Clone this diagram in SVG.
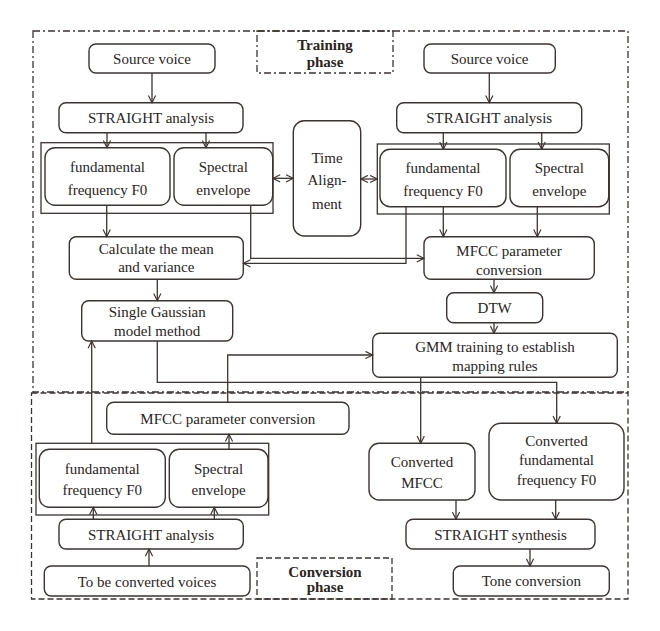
<svg xmlns="http://www.w3.org/2000/svg" width="660" height="631" viewBox="0 0 660 631">
<style>
.box{fill:#fff;stroke:#3b3431;stroke-width:1.4}
.grp{fill:none;stroke:#3b3431;stroke-width:1.3}
.t{font-family:"Liberation Serif","Times New Roman",serif;font-size:15px;fill:#2a2422;text-anchor:middle;dominant-baseline:central}
.b{font-weight:bold}
.c{fill:none;stroke:#3b3431;stroke-width:1.3}
.frameT{fill:none;stroke:#3b3431;stroke-width:1.3;stroke-dasharray:7 3 2 3}
.frameC{fill:none;stroke:#3b3431;stroke-width:1.3;stroke-dasharray:6 3}
</style>
<defs>
<marker id="ah" viewBox="0 0 10 10" refX="9" refY="5" markerWidth="9" markerHeight="9" markerUnits="userSpaceOnUse" orient="auto-start-reverse">
<path d="M1,1 L9,5 L1,9" fill="none" stroke="#3b3431" stroke-width="1.3"/>
</marker>
</defs>
<rect width="660" height="631" fill="#fff"/>

<g id="frames">
<rect class="frameT" x="33" y="31" width="595" height="361"/>
<rect class="frameC" x="31.5" y="393" width="596.5" height="206"/>
</g>

<g id="training-label">
<rect class="frameT" x="257" y="31" width="136" height="42" fill="#fff"/>
<text class="t b" x="325" y="45">Training</text>
<text class="t b" x="325" y="62">phase</text>
</g>

<g id="conversion-label">
<rect class="frameC" x="257" y="558" width="135" height="41"/>
<text class="t b" x="325" y="571.5">Conversion</text>
<text class="t b" x="325" y="586.5">phase</text>
</g>

<g id="src-left">
<rect class="box" x="89" y="44" width="126" height="29" rx="7"/>
<text class="t" x="152" y="58.5">Source voice</text>
</g>
<g id="straight-left">
<rect class="box" x="59" y="102.7" width="184" height="30" rx="7"/>
<text class="t" x="151" y="118">STRAIGHT analysis</text>
</g>
<g id="group-left">
<rect class="grp" x="41" y="142.7" width="232" height="70.6"/>
</g>
<g id="f0-left">
<rect class="box" x="45" y="147.7" width="125" height="57.6" rx="10"/>
<text class="t" x="107.5" y="166.5">fundamental</text>
<text class="t" x="107.5" y="189.5">frequency F0</text>
</g>
<g id="spec-left">
<rect class="box" x="174" y="147.7" width="98.7" height="57.6" rx="10"/>
<text class="t" x="223.3" y="166.5">Spectral</text>
<text class="t" x="223.3" y="189.5">envelope</text>
</g>

<g id="time-alignment">
<rect class="box" x="293.3" y="120.7" width="67.4" height="115.3" rx="11"/>
<text class="t" x="327" y="157.5">Time</text>
<text class="t" x="327" y="180">Align-</text>
<text class="t" x="327" y="204">ment</text>
</g>

<g id="src-right">
<rect class="box" x="424" y="44" width="131.3" height="29" rx="7"/>
<text class="t" x="489.6" y="58.5">Source voice</text>
</g>
<g id="straight-right">
<rect class="box" x="396.7" y="102.7" width="185" height="30" rx="7"/>
<text class="t" x="489.2" y="117.5">STRAIGHT analysis</text>
</g>
<g id="group-right">
<rect class="grp" x="377.3" y="144" width="232" height="70"/>
</g>
<g id="f0-right">
<rect class="box" x="380" y="149.3" width="126" height="57.4" rx="10"/>
<text class="t" x="443" y="168">fundamental</text>
<text class="t" x="443" y="190.5">frequency F0</text>
</g>
<g id="spec-right">
<rect class="box" x="510" y="149.3" width="98.7" height="57.4" rx="10"/>
<text class="t" x="559.3" y="168">Spectral</text>
<text class="t" x="559.3" y="190.5">envelope</text>
</g>

<g id="calc">
<rect class="box" x="69.3" y="236.7" width="174" height="42.6" rx="7"/>
<text class="t" x="156.3" y="249">Calculate the mean</text>
<text class="t" x="156.3" y="266.5">and variance</text>
</g>
<g id="mfcc-train">
<rect class="box" x="424" y="236.7" width="170.3" height="42.6" rx="7"/>
<text class="t" x="509" y="250.5">MFCC parameter</text>
<text class="t" x="509" y="270">conversion</text>
</g>
<g id="dtw">
<rect class="box" x="446.7" y="292.7" width="96" height="30" rx="7"/>
<text class="t" x="494.7" y="308">DTW</text>
</g>
<g id="single-gaussian">
<rect class="box" x="81.7" y="300.7" width="151" height="40.3" rx="7"/>
<text class="t" x="157.2" y="312.3">Single Gaussian</text>
<text class="t" x="157.2" y="330.5">model method</text>
</g>
<g id="gmm">
<rect class="box" x="372.7" y="333.3" width="244.6" height="44" rx="7"/>
<text class="t" x="495" y="346.5">GMM training to establish</text>
<text class="t" x="495" y="365.5">mapping rules</text>
</g>

<g id="mfcc-conv">
<rect class="box" x="106.7" y="402.3" width="242.3" height="32" rx="7"/>
<text class="t" x="227.8" y="419">MFCC parameter conversion</text>
</g>
<g id="group-conv">
<rect class="grp" x="36" y="443.3" width="232.7" height="71.7"/>
</g>
<g id="f0-conv">
<rect class="box" x="39.3" y="449.3" width="126" height="58" rx="10"/>
<text class="t" x="102.3" y="469">fundamental</text>
<text class="t" x="102.3" y="490">frequency F0</text>
</g>
<g id="spec-conv">
<rect class="box" x="169.3" y="449.3" width="98.7" height="58" rx="10"/>
<text class="t" x="218.6" y="469">Spectral</text>
<text class="t" x="218.6" y="490">envelope</text>
</g>
<g id="straight-conv">
<rect class="box" x="59" y="519.3" width="184.3" height="29.7" rx="7"/>
<text class="t" x="151" y="535">STRAIGHT analysis</text>
</g>
<g id="to-be-converted">
<rect class="box" x="44.3" y="566" width="205.7" height="30" rx="7"/>
<text class="t" x="147" y="581.5">To be converted voices</text>
</g>

<g id="converted-mfcc">
<rect class="box" x="369" y="443.3" width="106" height="56.7" rx="10"/>
<text class="t" x="422" y="462">Converted</text>
<text class="t" x="422" y="483">MFCC</text>
</g>
<g id="converted-f0">
<rect class="box" x="489" y="423.3" width="135" height="76.7" rx="12"/>
<text class="t" x="556.5" y="440.5">Converted</text>
<text class="t" x="556.5" y="460">fundamental</text>
<text class="t" x="556.5" y="480">frequency F0</text>
</g>
<g id="straight-synth">
<rect class="box" x="406" y="519.3" width="189" height="29.7" rx="7"/>
<text class="t" x="500.5" y="534.5">STRAIGHT synthesis</text>
</g>
<g id="tone">
<rect class="box" x="453.3" y="566" width="156" height="30" rx="7"/>
<text class="t" x="531.3" y="581">Tone conversion</text>
</g>

<g id="connectors">
<path class="c" marker-end="url(#ah)" d="M152,73 V102.7"/>
<path class="c" marker-end="url(#ah)" d="M107,132.7 V147.7"/>
<path class="c" marker-end="url(#ah)" d="M206,132.7 V147.7"/>
<path class="c" marker-end="url(#ah)" d="M489.3,73 V102.7"/>
<path class="c" marker-end="url(#ah)" d="M443.3,132.7 V149.3"/>
<path class="c" marker-end="url(#ah)" d="M541.7,132.7 V149.3"/>
<path class="c" marker-start="url(#ah)" marker-end="url(#ah)" d="M273,178.3 H293.3"/>
<path class="c" marker-start="url(#ah)" marker-end="url(#ah)" d="M360.7,179 H377.3"/>
<path class="c" marker-end="url(#ah)" d="M106.7,205.3 V236.7"/>
<path class="c" marker-end="url(#ah)" d="M250.7,205.3 V258.3 H424"/>
<path class="c" marker-end="url(#ah)" d="M406,206.7 V263.3 H243.3"/>
<path class="c" marker-end="url(#ah)" d="M443.3,206.7 V236.7"/>
<path class="c" marker-end="url(#ah)" d="M537.3,206.7 V236.7"/>
<path class="c" marker-end="url(#ah)" d="M494,279.3 V292.7"/>
<path class="c" marker-end="url(#ah)" d="M494,322.7 V333.3"/>
<path class="c" marker-end="url(#ah)" d="M157.3,279.3 V300.7"/>
<path class="c" marker-end="url(#ah)" d="M157.3,341 V382.3 H556.7 V423.3"/>
<path class="c" marker-end="url(#ah)" d="M420.7,377.3 V443.3"/>
<path class="c" marker-end="url(#ah)" d="M227.7,402.3 V355 H372.7"/>
<path class="c" marker-end="url(#ah)" d="M91.7,443.3 V341"/>
<path class="c" marker-end="url(#ah)" d="M229,449.3 V434.3"/>
<path class="c" marker-end="url(#ah)" d="M93.3,519.3 V507.3"/>
<path class="c" marker-end="url(#ah)" d="M214.3,519.3 V507.3"/>
<path class="c" marker-end="url(#ah)" d="M149,566 V549"/>
<path class="c" marker-end="url(#ah)" d="M456,500 V519.3"/>
<path class="c" marker-end="url(#ah)" d="M555.7,500 V519.3"/>
<path class="c" marker-end="url(#ah)" d="M530,549 V566"/>
</g>
</svg>
